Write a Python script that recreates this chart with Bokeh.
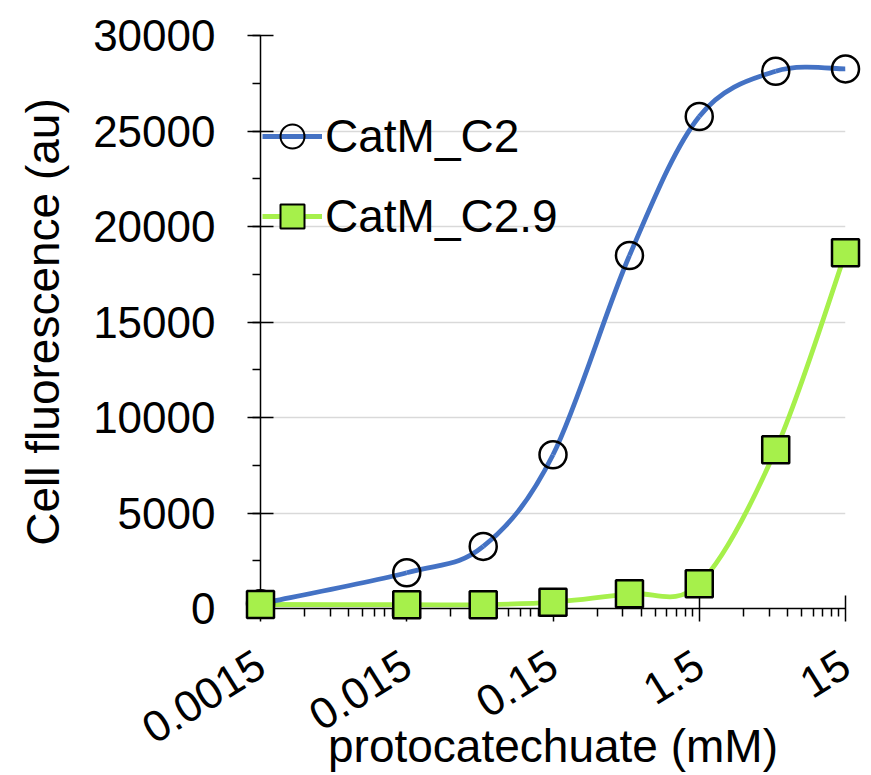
import math
import numpy as np
from bokeh.plotting import figure
from bokeh.models import FixedTicker, Legend, LegendItem, ColumnDataSource, CustomJSTickFormatter
from bokeh.embed import file_html
from bokeh.resources import INLINE

# data
conc = [0.0015, 0.015, 0.05, 0.15, 0.5, 1.5, 5, 15]
catm_c2 = [250, 1870, 3250, 8050, 18480, 25760, 28130, 28250]
catm_c29 = [210, 200, 200, 330, 770, 1290, 8310, 18620]
series_names = ["CatM_C2", "CatM_C2.9"]
x_ticks = [0.0015, 0.015, 0.15, 1.5, 15]
x_tick_labels = ["0.0015", "0.015", "0.15", "1.5", "15"]
y_ticks = [0, 5000, 10000, 15000, 20000, 25000, 30000]

FONT = "Liberation Sans"
BLUE = "#4472C4"
GREEN = "#A6F04B"


def smooth_segments(xs, ys):
    lx = np.log10(np.array(xs, dtype=float))
    y = np.array(ys, dtype=float)
    n = len(lx)
    d = dict(x0=[], y0=[], x1=[], y1=[], cx0=[], cy0=[], cx1=[], cy1=[])
    for i in range(n - 1):
        i0 = max(i - 1, 0)
        i3 = min(i + 2, n - 1)
        c0x = lx[i] + (lx[i + 1] - lx[i0]) / 6
        c0y = y[i] + (y[i + 1] - y[i0]) / 6
        c1x = lx[i + 1] - (lx[i3] - lx[i]) / 6
        c1y = y[i + 1] - (y[i3] - y[i]) / 6
        d["x0"].append(10 ** lx[i]); d["y0"].append(y[i])
        d["x1"].append(10 ** lx[i + 1]); d["y1"].append(y[i + 1])
        d["cx0"].append(10 ** c0x); d["cy0"].append(c0y)
        d["cx1"].append(10 ** c1x); d["cy1"].append(c1y)
    return ColumnDataSource(d)


p = figure(width=871, height=775, x_axis_type="log",
           x_range=(0.0015, 15), y_range=(0, 30000),
           output_backend="svg", toolbar_location=None,
           min_border_left=260, min_border_right=26,
           min_border_top=35, min_border_bottom=167)
p.outline_line_color = None
p.background_fill_color = "white"

# axes
minor_x = [t * k for t in x_ticks[:-1] for k in range(2, 10)]
p.xaxis.ticker = FixedTicker(ticks=x_ticks, minor_ticks=minor_x)
p.xaxis.formatter = CustomJSTickFormatter(args=dict(tv=x_ticks, tl=x_tick_labels), code="""
for (let i = 0; i < tv.length; i++) {
  if (Math.abs(Math.log10(tick) - Math.log10(tv[i])) < 1e-6) { return tl[i]; }
}
return '';""")
p.yaxis.ticker = FixedTicker(ticks=y_ticks, minor_ticks=list(range(0, 30001, 2500)))

for ax in (p.xaxis[0], p.yaxis[0]):
    ax.axis_line_color = "black"
    ax.axis_line_width = 1.5
    ax.major_tick_line_color = "black"
    ax.major_tick_line_width = 1.5
    ax.minor_tick_line_color = "black"
    ax.minor_tick_line_width = 1.5
    ax.major_tick_in = 13
    ax.major_tick_out = 13
    ax.minor_tick_in = 0
    ax.minor_tick_out = 8
    ax.major_label_text_font = FONT
    ax.major_label_text_font_size = "44px"
    ax.major_label_text_color = "black"
    ax.axis_label_text_font = FONT
    ax.axis_label_text_font_size = "46px"
    ax.axis_label_text_font_style = "normal"
    ax.axis_label_text_color = "black"

p.xaxis.axis_label = "protocatechuate (mM)"
p.yaxis.axis_label = "Cell fluorescence (au)"
p.xaxis.major_label_orientation = math.radians(32)
p.xaxis.major_label_standoff = 39
p.xaxis.axis_label_standoff = -41
p.yaxis.major_label_standoff = 32
p.yaxis.axis_label_standoff = 21

p.xgrid.grid_line_color = None
p.ygrid.grid_line_color = "#D9D9D9"
p.ygrid.grid_line_width = 1.5
p.ygrid.ticker = FixedTicker(ticks=y_ticks[1:])

# curves
s1 = smooth_segments(conc, catm_c2)
s2 = smooth_segments(conc, catm_c29)
b2 = p.bezier(x0="x0", y0="y0", x1="x1", y1="y1", cx0="cx0", cy0="cy0", cx1="cx1", cy1="cy1",
              source=s2, line_color=GREEN, line_width=4.8)
b1 = p.bezier(x0="x0", y0="y0", x1="x1", y1="y1", cx0="cx0", cy0="cy0", cx1="cx1", cy1="cy1",
              source=s1, line_color=BLUE, line_width=4.8)
m1 = p.scatter(conc, catm_c2, marker="circle", size=27, fill_color=None,
               line_color="black", line_width=2.5, level="overlay")
m2 = p.scatter(conc, catm_c29, marker="square", size=27, fill_color=GREEN,
               line_color="black", line_width=2.5, level="overlay")

# legend proxies (line + marker)
l1 = p.line([conc[0]], [catm_c2[0]], line_color=BLUE, line_width=4.8, visible=False)
l2 = p.line([conc[0]], [catm_c29[0]], line_color=GREEN, line_width=4.8, visible=False)
lm1 = p.scatter([conc[0]], [catm_c2[0]], marker="circle", size=27, fill_color=None,
                line_color="black", line_width=2, visible=False)
lm2 = p.scatter([conc[0]], [catm_c29[0]], marker="square", size=27, fill_color=GREEN,
                line_color="black", line_width=2, visible=False)

legend = Legend(items=[LegendItem(label=series_names[0], renderers=[l1, lm1]),
                       LegendItem(label=series_names[1], renderers=[l2, lm2])],
                location=(2, 361), orientation="vertical",
                glyph_width=60, glyph_height=62, label_standoff=3,
                spacing=18, padding=0, margin=0,
                label_text_font=FONT, label_text_font_size="46px", label_text_color="black",
                background_fill_alpha=0, border_line_alpha=0)
p.add_layout(legend)

open("out.html", "w").write(file_html(p, INLINE))
